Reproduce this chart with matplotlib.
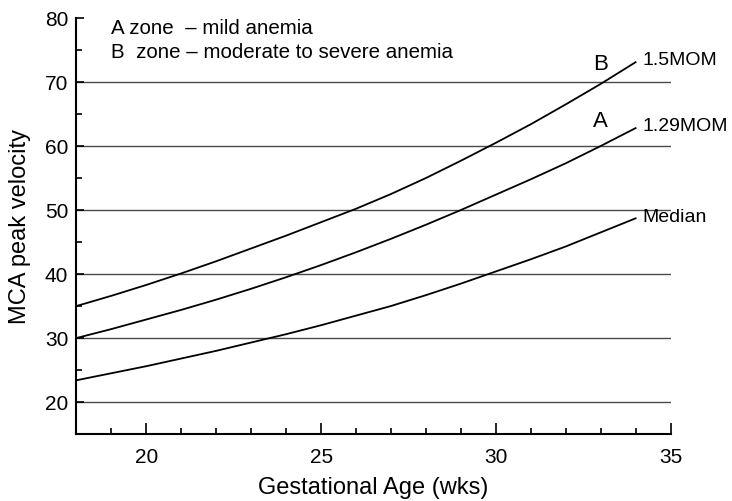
import matplotlib
matplotlib.use("Agg")
import matplotlib.pyplot as plt
from matplotlib.ticker import MultipleLocator

plt.rcParams['font.family'] = ['Liberation Sans', 'DejaVu Sans']

# gestational age (wks) and MCA peak systolic velocity curves
weeks = [18, 19, 20, 21, 22, 23, 24, 25, 26, 27, 28, 29, 30, 31, 32, 33, 34]
median = [23.4, 24.5, 25.6, 26.8, 28.0, 29.3, 30.6, 32.0, 33.5, 35.0, 36.7,
          38.5, 40.4, 42.3, 44.3, 46.5, 48.7]
mom129 = [30.0, 31.4, 32.9, 34.4, 36.0, 37.7, 39.5, 41.4, 43.4, 45.5, 47.7,
          50.0, 52.4, 54.8, 57.3, 60.0, 62.8]
mom15 = [35.0, 36.6, 38.3, 40.1, 42.0, 44.0, 46.0, 48.1, 50.2, 52.5, 55.0,
         57.7, 60.5, 63.4, 66.5, 69.7, 73.1]
curve_names = ["Median", "1.29MOM", "1.5MOM"]
grid_levels = [20, 30, 40, 50, 60, 70]

fig = plt.figure(figsize=(7.32, 5.01), dpi=100)
ax = fig.add_axes([0.1045, 0.1337, 0.8115, 0.8303])

ax.hlines(grid_levels, 18, 35, color="#4a4a4a", lw=1.0, zorder=1)

for ys, name in zip([median, mom129, mom15], curve_names):
    ax.plot(weeks, ys, color="black", lw=1.3, zorder=2)
    ax.text(weeks[-1] + 0.2, ys[-1] + 0.2, name, fontsize=14,
            ha="left", va="center")

ax.text(33.0, 72.8, "B", fontsize=16, ha="center", va="center")
ax.text(33.0, 63.9, "A", fontsize=16, ha="center", va="center")

ax.text(19.0, 78.3, "A zone  \u2013 mild anemia", fontsize=14.8, va="center")
ax.text(19.0, 74.6, "B  zone \u2013 moderate to severe anemia", fontsize=14.8,
        va="center")

ax.set_xlim(18, 35)
ax.set_ylim(15, 80)
ax.xaxis.set_major_locator(MultipleLocator(5))
ax.xaxis.set_minor_locator(MultipleLocator(1))
ax.yaxis.set_major_locator(MultipleLocator(10))
ax.yaxis.set_minor_locator(MultipleLocator(5))
ax.tick_params(which="both", direction="in", width=1.2)
ax.tick_params(axis="x", which="major", length=8, pad=10)
ax.tick_params(axis="x", which="minor", length=4)
ax.tick_params(axis="y", which="major", length=6, pad=6)
ax.tick_params(axis="y", which="minor", length=4)
for lab in ax.get_xticklabels() + ax.get_yticklabels():
    lab.set_family(['Liberation Sans Narrow', 'Liberation Sans'])
    lab.set_fontsize(15)

for s in ["top", "right"]:
    ax.spines[s].set_visible(False)
for s in ["left", "bottom"]:
    ax.spines[s].set_linewidth(1.5)

ax.set_xlabel("Gestational Age (wks)", fontsize=17, labelpad=7)
ax.set_ylabel("MCA peak velocity", fontsize=17, labelpad=10)

fig.savefig("out.png", dpi=100)
